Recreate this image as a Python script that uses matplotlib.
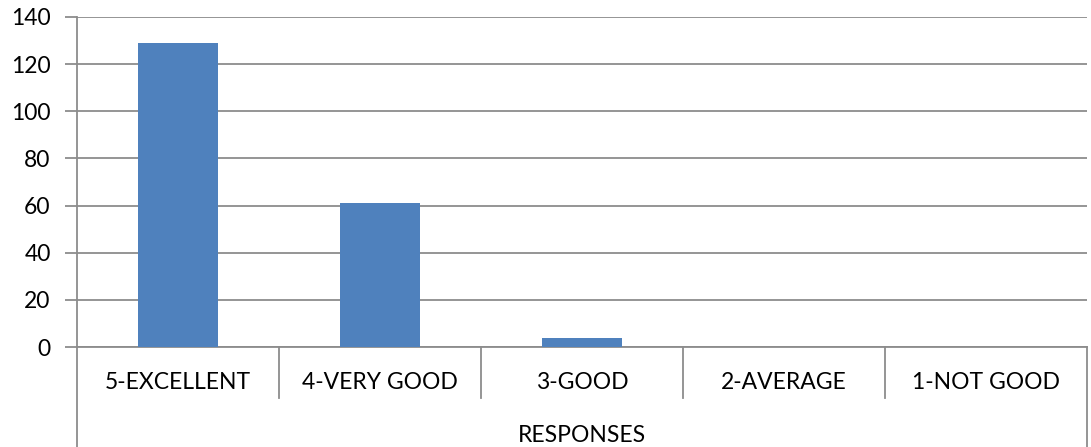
import matplotlib
matplotlib.use("Agg")
import matplotlib.pyplot as plt
import matplotlib.transforms as mtransforms

categories = ["5-EXCELLENT", "4-VERY GOOD", "3-GOOD", "2-AVERAGE", "1-NOT GOOD"]
values = [129, 61, 4, 0, 0]
yticks = [0, 20, 40, 60, 80, 100, 120, 140]
axis_title = "RESPONSES"

plt.rcParams['font.family'] = ['Lato', 'DejaVu Sans']
W, H = 1091, 447
fig = plt.figure(figsize=(W / 100, H / 100), dpi=100)
L, R, T, B = 77, 1087, 17, 347
ax = fig.add_axes([L / W, (H - B) / H, (R - L) / W, (B - T) / H])

grid_c = "#8c8c8c"
fs = 16.5
n = len(categories)
x = list(range(n))
ax.bar(x, values, width=0.4, color="#4F81BD", zorder=3)
ax.set_xlim(-0.5, n - 0.5)
ax.set_ylim(0, 140)
ax.set_yticks(yticks)
ax.set_yticklabels([str(v) for v in yticks], fontsize=fs, color="#000000")
ax.tick_params(axis='y', length=9, width=1.3, color=grid_c, pad=10)
ax.yaxis.grid(True, color=grid_c, linewidth=1.3, zorder=0)
ax.set_xticks(x)
ax.set_xticklabels(categories, fontsize=fs, color="#000000")
ax.tick_params(axis='x', length=0, pad=18)
for s in ["top", "right"]:
    ax.spines[s].set_visible(False)
ax.spines["left"].set_color(grid_c)
ax.spines["left"].set_linewidth(1.3)
ax.spines["bottom"].set_color(grid_c)
ax.spines["bottom"].set_linewidth(1.3)

trans = mtransforms.blended_transform_factory(ax.transData, ax.transAxes)
sep_y = -(398 - B) / (B - T)
bot_y = -(H - B) / (B - T)
for b in range(1, n):
    ax.plot([b - 0.5, b - 0.5], [0, sep_y], transform=trans, color=grid_c,
            linewidth=1.3, clip_on=False)
for b in [-0.5, n - 0.5]:
    ax.plot([b, b], [0, bot_y], transform=trans, color=grid_c,
            linewidth=1.3, clip_on=False)
ax.set_xlabel(axis_title, fontsize=fs, labelpad=23)

fig.savefig("out.png", dpi=100)
